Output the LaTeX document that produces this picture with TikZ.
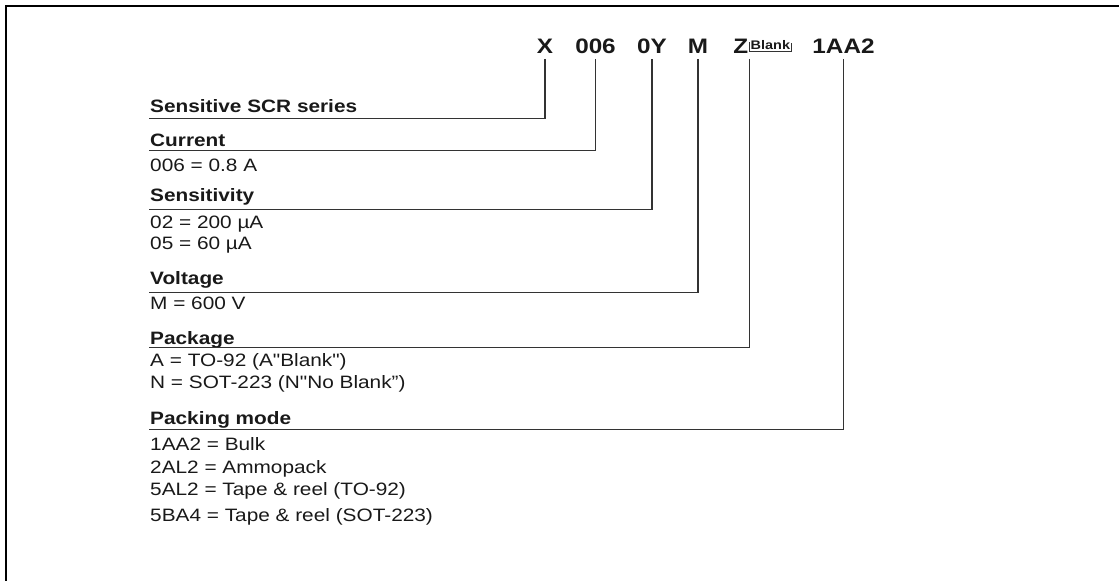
\documentclass[tikz,border=0pt]{standalone}
\usepackage{fontspec}
\setmainfont{Liberation Sans}[FakeStretch=1.16,Ligatures=TeXOff]
\begin{document}
\begin{tikzpicture}[x=1bp,y=-1bp,
  every node/.style={inner sep=0pt,text=black!90},
  code/.style={font=\fontsize{21}{24}\selectfont\bfseries,anchor=base,inner ysep=5.5bp},
  head/.style={font=\fontsize{18}{21}\selectfont\bfseries,anchor=base west},
  item/.style={font=\fontsize{18}{21}\selectfont,anchor=base west},
  lead/.style={draw=black!80,line width=1.1bp}]
  \useasboundingbox (0,0) rectangle (1119,581);
  \draw[line width=2.2bp] (6,581) |- (1119,6);
  % part number
  \node[code] (cx) at (545,53.3) {X};
  \node[code] (c006) at (595.5,53.3) {006};
  \node[code] (c0y) at (652,53.3) {0Y};
  \node[code] (cm) at (698,53.3) {M};
  \node[code] (cz) at (740.8,53.3) {Z};
  \node[font=\fontsize{12.5}{14}\selectfont\bfseries,anchor=base west,inner xsep=1bp,inner ysep=1.7bp] (blank) at (749.5,49.3) {Blank};
  \draw[lead,line width=0.8bp] ([yshift=9bp]blank.south west) -- (blank.south west) -- (blank.south east) -- ([yshift=8bp]blank.south east);
  \node[code] (c1aa2) at (843.5,53.3) {1AA2};
  % series
  \node[head] (hser) at (150,113) {Sensitive SCR series};
  \coordinate (lser) at (148.5,118.3);
  \draw[lead] (cx.south) |- (lser);
  % current
  \node[head] (hcur) at (150,146.3) {Current};
  \coordinate (lcur) at (148.5,150.7);
  \draw[lead] (c006.south) |- (lcur);
  \node[item] (icur) at (150,172) {006 = 0.8 A};
  % sensitivity
  \node[head] (hsen) at (150,201.3) {Sensitivity};
  \coordinate (lsen) at (148.5,209.3);
  \draw[lead] (c0y.south) |- (lsen);
  \node[item] (isen1) at (150,228.3) {02 = 200 µA};
  \node[item] (isen2) at (150,250) {05 = 60 µA};
  % voltage
  \node[head] (hvol) at (150,284.7) {Voltage};
  \coordinate (lvol) at (148.5,292.3);
  \draw[lead] (cm.south) |- (lvol);
  \node[item] (ivol) at (150,310) {M = 600 V};
  % package
  \node[head] (hpkg) at (150,344.7) {Package};
  \coordinate (lpkg) at (148.5,347.3);
  \draw[lead] ([yshift=-7.5bp]blank.south west) |- (lpkg);
  \node[item] (ipkg1) at (150,366.5) {A = TO-92 (A"Blank")};
  \node[item] (ipkg2) at (150,388) {N = SOT-223 (N"No Blank”)};
  % packing mode
  \node[head] (hpck) at (150,424.7) {Packing mode};
  \coordinate (lpck) at (148.5,429.8);
  \draw[lead] (c1aa2.south) |- (lpck);
  \node[item] (ipck1) at (150,450) {1AA2 = Bulk};
  \node[item] (ipck2) at (150,473) {2AL2 = Ammopack};
  \node[item] (ipck3) at (150,495) {5AL2 = Tape \& reel (TO-92)};
  \node[item] (ipck4) at (150,521.5) {5BA4 = Tape \& reel (SOT-223)};
\end{tikzpicture}
\end{document}
